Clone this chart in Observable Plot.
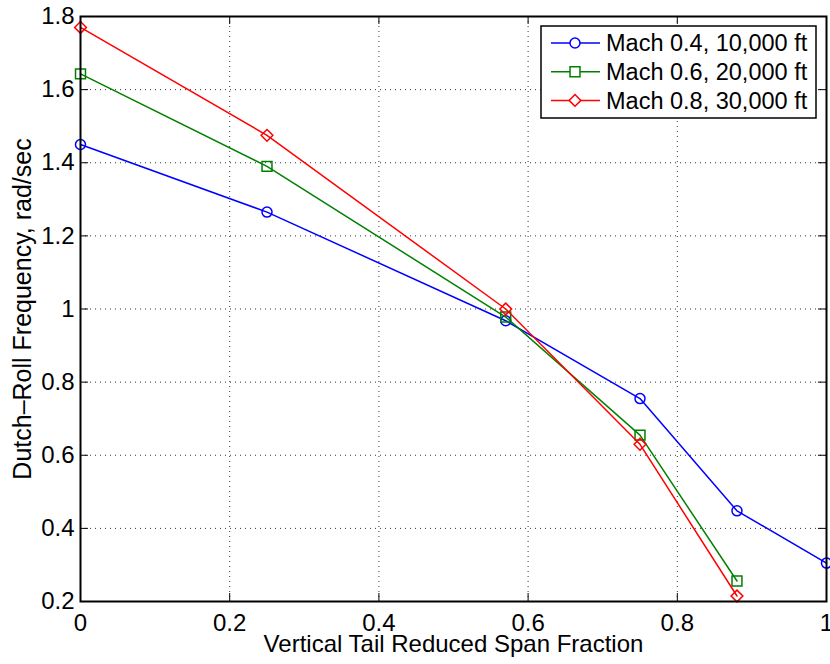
<!DOCTYPE html>
<html>
<head>
<meta charset="utf-8">
<script src="https://cdn.jsdelivr.net/npm/d3@7"></script>
<script src="https://cdn.jsdelivr.net/npm/@observablehq/plot@0.6"></script>
<style>
  body { margin: 0; background: #fff; }
  #wrap { position: relative; width: 830px; height: 664px; font-family: "Liberation Sans", Arial, Helvetica, sans-serif; }
  #legend { position: absolute; left: 0; top: 0; }
</style>
</head>
<body>
<div id="wrap"></div>
<script>
// ---- data ----
const spanFraction = [0, 0.25, 0.57, 0.75, 0.88, 1.0];
const seriesNames = ["Mach 0.4, 10,000 ft", "Mach 0.6, 20,000 ft", "Mach 0.8, 30,000 ft"];
const mach04 = [1.45, 1.265, 0.968, 0.755, 0.448, 0.305];
const mach06 = [1.643, 1.39, 0.978, 0.655, 0.256];
const mach08 = [1.77, 1.475, 1.0, 0.63, 0.215];
const xTicks = [0, 0.2, 0.4, 0.6, 0.8, 1];
const yTicks = [0.2, 0.4, 0.6, 0.8, 1, 1.2, 1.4, 1.6, 1.8];
const xLabel = "Vertical Tail Reduced Span Fraction";
const yLabel = "Dutch–Roll Frequency, rad/sec";

// ---- styling ----
const font = "'Liberation Sans', Arial, Helvetica, sans-serif";
const colors = ["#0000ff", "#008000", "#ff0000"];
const symbols = [d3.symbolCircle, d3.symbolSquare, d3.symbolDiamond2];
const radii = [5, 5.6, 5.3];

const W = 830, H = 664;
const mL = 80, mR = 4, mT = 16, mB = 63;
const fw = W - mL - mR, fh = H - mT - mB;

const valueSets = [mach04, mach06, mach08];
const rows = [];
valueSets.forEach((vals, i) => vals.forEach((v, j) => rows.push({series: seriesNames[i], x: spanFraction[j], y: v})));

const marks = [
  Plot.gridX(xTicks, {stroke: "#000", strokeOpacity: 0.8, strokeDasharray: "1,4", strokeWidth: 1}),
  Plot.gridY(yTicks, {stroke: "#000", strokeOpacity: 0.8, strokeDasharray: "1,4", strokeWidth: 1}),
  Plot.tickX(xTicks, {x: d => d, insetTop: fh - 8, stroke: "#000"}),
  Plot.tickX(xTicks, {x: d => d, insetBottom: fh - 8, stroke: "#000"}),
  Plot.tickY(yTicks, {y: d => d, insetRight: fw - 8, stroke: "#000"}),
  Plot.tickY(yTicks, {y: d => d, insetLeft: fw - 8, stroke: "#000"}),
  Plot.axisX({ticks: xTicks, tickSize: 0, tickPadding: 12, fontSize: 24, tickFormat: d => String(d), label: null}),
  Plot.axisY({ticks: yTicks, tickSize: 0, tickPadding: 6, fontSize: 24, tickFormat: d => String(d), label: null}),
  Plot.text([xLabel], {text: d => d, frameAnchor: "bottom", textAnchor: "middle", lineAnchor: "middle", dy: 43, fontSize: 24}),
  Plot.text([yLabel], {text: d => d, frameAnchor: "left", textAnchor: "middle", lineAnchor: "middle", rotate: -90, dx: -58, fontSize: 25})
];
seriesNames.forEach((name, i) => {
  const d = rows.filter(r => r.series === name);
  marks.push(Plot.line(d, {x: "x", y: "y", stroke: colors[i], strokeWidth: 1.5}));
  marks.push(Plot.dot(d, {x: "x", y: "y", stroke: colors[i], fill: "none", strokeWidth: 1.5, symbol: () => name, r: radii[i]}));
});
marks.push(Plot.frame({stroke: "#000", strokeWidth: 2}));

const chart = Plot.plot({
  width: W, height: H,
  marginLeft: mL, marginRight: mR, marginTop: mT, marginBottom: mB,
  x: {domain: [0, 1], label: null},
  y: {domain: [0.2, 1.8], label: null},
  symbol: {domain: seriesNames, range: symbols},
  style: {fontFamily: font, fontSize: "24px", color: "#000", background: "#fff", overflow: "visible"},
  marks
});
document.getElementById("wrap").appendChild(chart);

// ---- legend (overlay) ----
const lg = d3.select("#wrap").append("svg").attr("id", "legend").attr("width", W).attr("height", H);
const bx = 541, by = 26, bw = 275, bh = 92;
lg.append("rect").attr("x", bx).attr("y", by).attr("width", bw).attr("height", bh)
  .attr("fill", "#fff").attr("stroke", "#000").attr("stroke-width", 1.5);
seriesNames.forEach((name, i) => {
  const cy = by + 17 + i * 28.7;
  const g = lg.append("g");
  g.append("line").attr("x1", bx + 10).attr("x2", bx + 59).attr("y1", cy).attr("y2", cy)
    .attr("stroke", colors[i]).attr("stroke-width", 1.5);
  g.append("path").attr("transform", `translate(${bx + 34},${cy})`)
    .attr("d", d3.symbol(symbols[i], Math.PI * radii[i] * radii[i])())
    .attr("fill", "#fff").attr("stroke", colors[i]).attr("stroke-width", 1.5);
  g.append("text").attr("x", bx + 65).attr("y", cy).attr("dy", "0.36em")
    .attr("font-family", font).attr("font-size", 23.5)
    .attr("fill", "#000").text(name);
});
</script>
</body>
</html>
